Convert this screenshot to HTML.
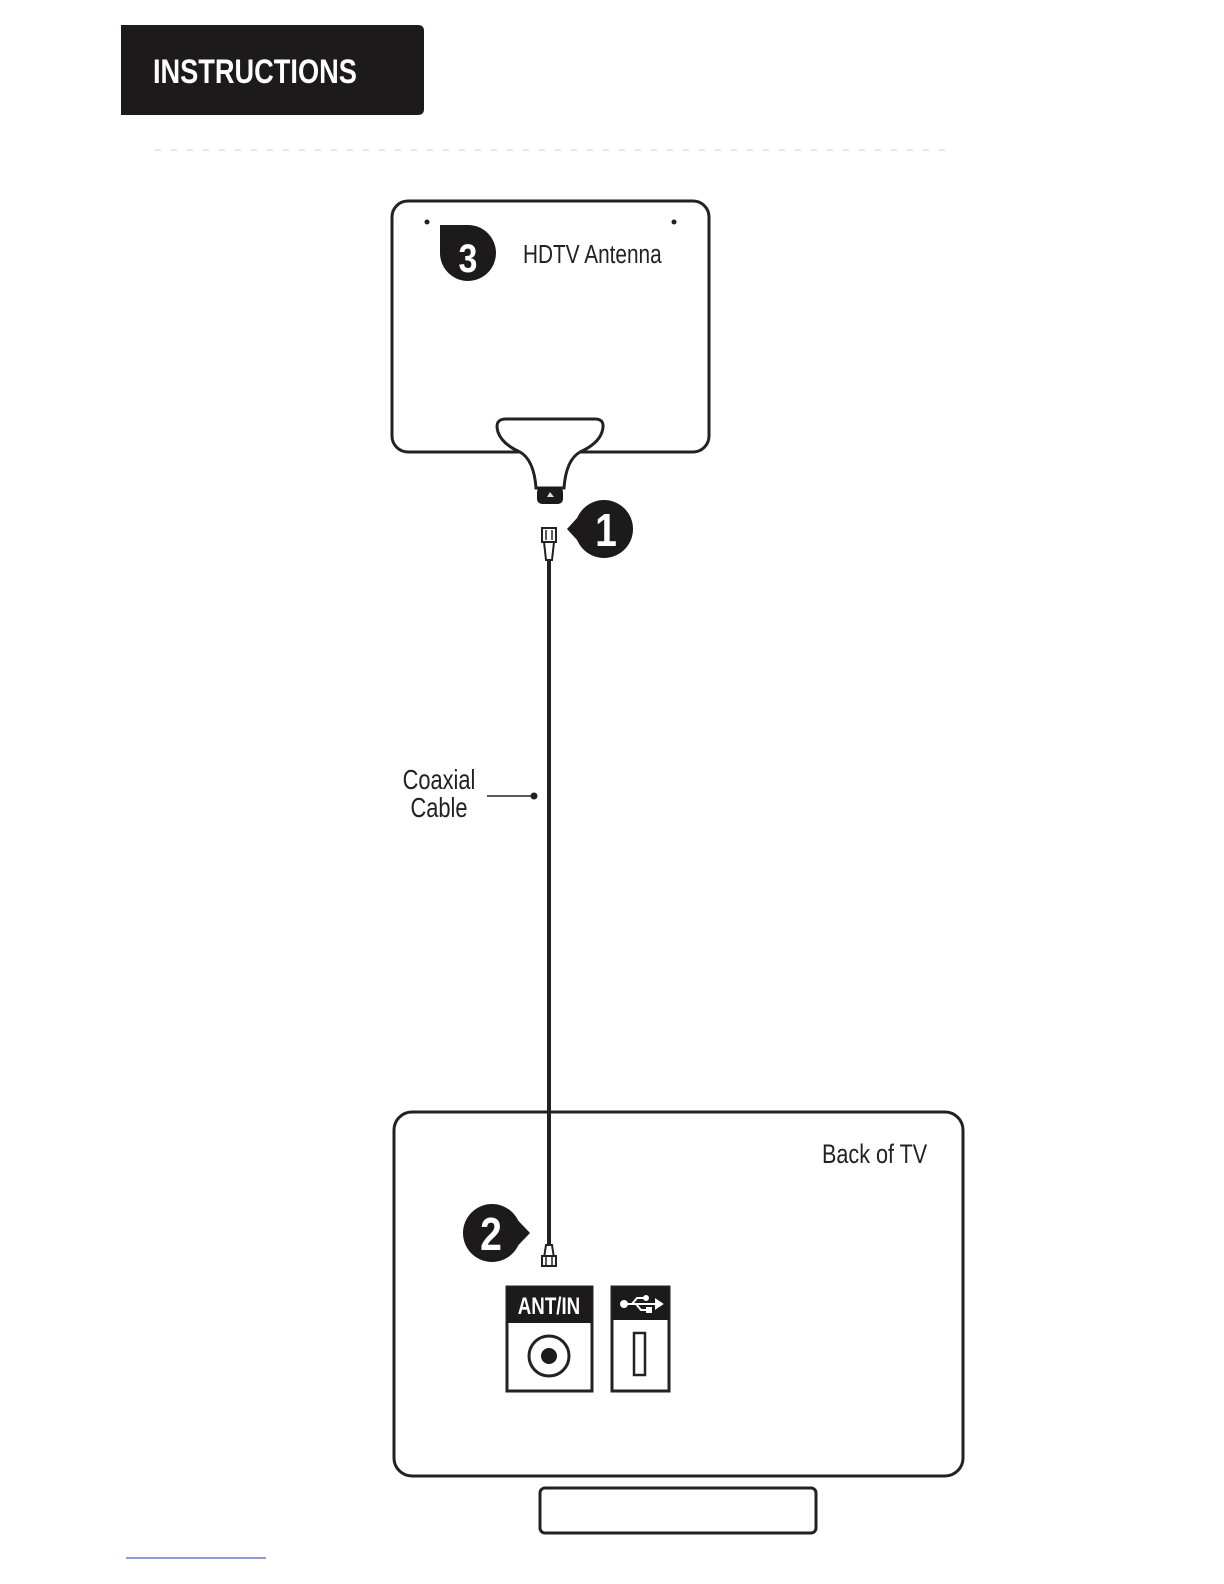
<!DOCTYPE html>
<html><head><meta charset="utf-8"><style>
html,body{margin:0;padding:0;background:#fff;overflow:hidden;width:1224px;height:1584px}
svg{display:block;position:absolute;left:0;top:0}
text{font-family:"Liberation Sans",sans-serif}
</style></head><body>
<svg width="1224" height="1584" viewBox="0 0 1224 1584" xmlns="http://www.w3.org/2000/svg">
<path d="M121 25 H418 Q424 25 424 31 V109 Q424 115 418 115 H121 Z" fill="#1c1a1b"/>
<text x="153" y="83" fill="#fff" font-size="34" font-weight="bold" transform="translate(153 0) scale(0.8 1) translate(-153 0)">INSTRUCTIONS</text>
<line x1="155" y1="150" x2="955" y2="150" stroke="#ccc" stroke-width="1" stroke-dasharray="6 10"/>

<rect x="392" y="201" width="317" height="251" rx="16" fill="#fff" stroke="#222" stroke-width="3"/>
<circle cx="427" cy="222" r="2.5" fill="#222"/><circle cx="674" cy="222" r="2.5" fill="#222"/>
<path d="M440 225 H467 A28 28 0 1 1 440 253 Z" fill="#1c1a1b"/>
<text x="468" y="272" fill="#fff" font-size="40" font-weight="bold" text-anchor="middle" transform="translate(468 0) scale(0.85 1) translate(-468 0)">3</text>
<text x="523" y="263" fill="#222" font-size="26" transform="translate(523 0) scale(0.8 1) translate(-523 0)">HDTV Antenna</text>

<path d="M506 419 H595 Q606 419 602 432 Q598 444 580 452 Q566 460 564 488 H536 Q534 460 520 452 Q502 444 498 432 Q494 419 506 419 Z" fill="#fff" stroke="#222" stroke-width="3"/>
<rect x="537" y="487" width="26" height="17" rx="5" fill="#1c1a1b"/>
<path d="M547 497 l3 -5 l4 5 z" fill="#ddd"/>

<circle cx="604" cy="529" r="29" fill="#1c1a1b"/>
<path d="M567 529 L588 506 L588 552 Z" fill="#1c1a1b"/>
<text x="606" y="546" fill="#fff" font-size="46" font-weight="bold" text-anchor="middle" transform="translate(606 0) scale(0.85 1) translate(-606 0)">1</text>

<rect x="542" y="528" width="14" height="14" fill="#fff" stroke="#222" stroke-width="2"/>
<line x1="546" y1="530" x2="546" y2="540" stroke="#222" stroke-width="1.5"/><line x1="552" y1="530" x2="552" y2="540" stroke="#222" stroke-width="1.5"/>
<path d="M544 542 L554 542 L552 560 L546 560 Z" fill="#fff" stroke="#222" stroke-width="2"/>
<line x1="549" y1="560" x2="549" y2="1246" stroke="#222" stroke-width="4"/>

<text x="439" y="789" fill="#222" font-size="28" text-anchor="middle" transform="translate(439 0) scale(0.78 1) translate(-439 0)">Coaxial</text>
<text x="439" y="817" fill="#222" font-size="28" text-anchor="middle" transform="translate(439 0) scale(0.78 1) translate(-439 0)">Cable</text>
<line x1="487" y1="796" x2="534" y2="796" stroke="#222" stroke-width="1.5"/>
<circle cx="534" cy="796" r="3.5" fill="#222"/>

<rect x="394" y="1112" width="569" height="364" rx="18" fill="none" stroke="#222" stroke-width="3"/>
<text x="822" y="1163" fill="#222" font-size="27" transform="translate(822 0) scale(0.8 1) translate(-822 0)">Back of TV</text>

<circle cx="492" cy="1233" r="29" fill="#1c1a1b"/>
<path d="M530 1233 L508 1210 L508 1256 Z" fill="#1c1a1b"/>
<text x="491" y="1250" fill="#fff" font-size="46" font-weight="bold" text-anchor="middle" transform="translate(491 0) scale(0.85 1) translate(-491 0)">2</text>

<path d="M546 1245 L552 1245 L554 1258 L544 1258 Z" fill="#fff" stroke="#222" stroke-width="2"/>
<rect x="542" y="1256" width="14" height="10" fill="#fff" stroke="#222" stroke-width="2"/>
<line x1="546" y1="1257" x2="546" y2="1265" stroke="#222" stroke-width="1.5"/><line x1="552" y1="1257" x2="552" y2="1265" stroke="#222" stroke-width="1.5"/>

<rect x="507" y="1287" width="85" height="104" fill="#fff" stroke="#222" stroke-width="3"/>
<rect x="507" y="1287" width="85" height="36" fill="#1c1a1b"/>
<text x="549" y="1314" fill="#fff" font-size="24" font-weight="bold" text-anchor="middle" transform="translate(549 0) scale(0.78 1) translate(-549 0)">ANT/IN</text>
<circle cx="549" cy="1356" r="20" fill="none" stroke="#222" stroke-width="3"/>
<circle cx="549" cy="1356" r="8" fill="#1c1a1b"/>

<rect x="612" y="1287" width="57" height="104" fill="#fff" stroke="#222" stroke-width="3"/>
<rect x="612" y="1287" width="57" height="33" fill="#1c1a1b"/>
<g stroke="#fff" stroke-width="2" fill="#fff">
<circle cx="624" cy="1304" r="3"/>
<line x1="624" y1="1304" x2="656" y2="1304"/>
<path d="M656 1300 L662 1304 L656 1308 Z"/>
<polyline points="632,1304 637,1298 645,1298" fill="none"/>
<circle cx="646" cy="1298" r="2"/>
<polyline points="636,1304 641,1310 648,1310" fill="none"/>
<rect x="647" y="1308" width="4" height="4"/>
</g>
<rect x="634" y="1333" width="11" height="42" fill="#fff" stroke="#222" stroke-width="2.5"/>

<rect x="540" y="1488" width="276" height="45" rx="5" fill="#fff" stroke="#222" stroke-width="3"/>
<line x1="126" y1="1558" x2="266" y2="1558" stroke="#6b7bd0" stroke-width="1.5"/>
</svg>
</body></html>
